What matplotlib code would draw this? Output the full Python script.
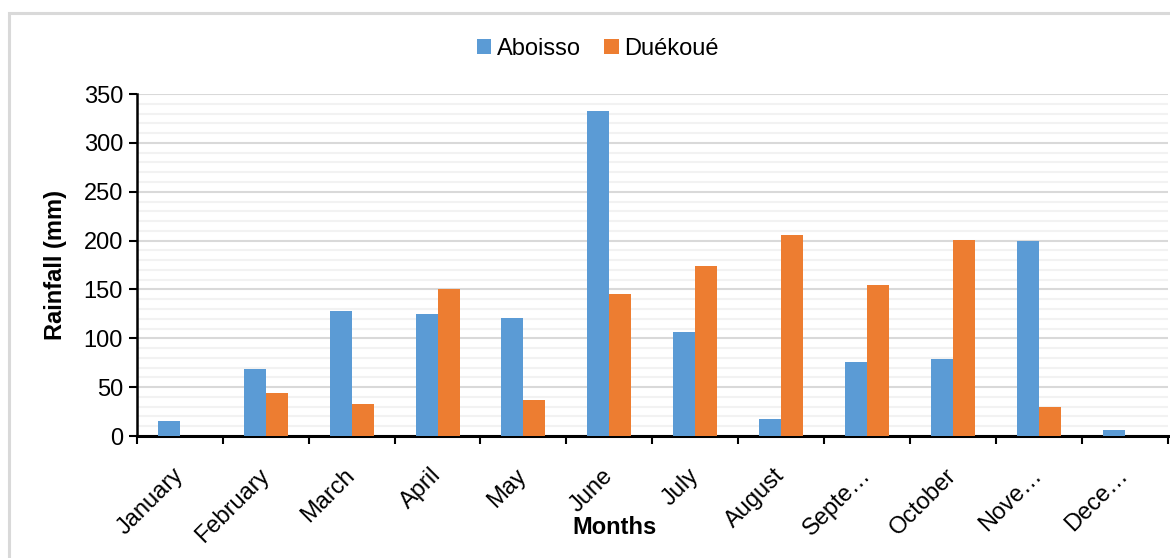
import numpy as np
import matplotlib.pyplot as plt
from matplotlib.patches import Rectangle
from matplotlib.ticker import MultipleLocator

# --- dados ---
months = ["January", "February", "March", "April", "May", "June", "July",
          "August", "September", "October", "November", "December"]
tick_labels = ["January", "February", "March", "April", "May", "June", "July",
               "August", "Septe\u2026", "October", "Nove\u2026", "Dece\u2026"]
aboisso = [15, 69, 128, 125, 121, 333, 106, 17, 76, 79, 200, 6]
duekoue = [0, 44, 33, 150, 37, 145, 174, 206, 155, 201, 30, 0]

plt.rcParams["font.family"] = ["Liberation Sans", "DejaVu Sans"]

fig = plt.figure(figsize=(11.7, 5.58), dpi=100)
ax = fig.add_axes([0.117, 0.2186, 0.881, 0.6129])

# moldura cinza do grafico (estilo Excel)
fig.patches.append(Rectangle((0.0077, -0.02), 1.0, 0.997, transform=fig.transFigure,
                             fill=False, edgecolor="#d9d9d9", linewidth=2.2))

x = np.arange(len(months))
w = 0.256
ax.bar(x - w / 2, aboisso, width=w, color="#5B9BD5", linewidth=0,
       label="Aboisso", zorder=3)
ax.bar(x + w / 2, duekoue, width=w, color="#ED7D31", linewidth=0,
       label="Duékoué", zorder=3)

ax.set_xlim(-0.5, len(months) - 0.5)
ax.set_ylim(0, 350)
ax.yaxis.set_major_locator(MultipleLocator(50))
ax.yaxis.set_minor_locator(MultipleLocator(10))
ax.grid(True, which="major", axis="y", color="#d9d9d9", linewidth=1.5, zorder=0)
ax.grid(True, which="minor", axis="y", color="#f2f2f2", linewidth=1.5, zorder=0)
ax.set_axisbelow(True)

# ticks do eixo x entre as categorias, rotulos no centro
ax.set_xticks(np.arange(-0.5, len(months), 1.0))
ax.set_xticklabels([])
ax.set_xticks(x, minor=True)
ax.set_xticklabels(tick_labels, minor=True, rotation=45, ha="right",
                   va="center", rotation_mode="anchor", fontsize=17)
ax.tick_params(axis="x", which="major", length=6, width=1.5, direction="out")
ax.tick_params(axis="x", which="minor", length=0, pad=26)
ax.tick_params(axis="y", which="major", length=6, width=1.5, labelsize=17, pad=4)
ax.tick_params(axis="y", which="minor", length=0)

for s in ["top", "right"]:
    ax.spines[s].set_visible(False)
ax.spines["left"].set_linewidth(1.8)
ax.spines["bottom"].set_linewidth(2.2)

ax.set_ylabel("Rainfall (mm)", fontsize=17, fontweight="bold", labelpad=12)
fig.text(0.525, 0.055, "Months", fontsize=17, fontweight="bold",
         ha="center", va="center")

ax.legend(loc="center", bbox_to_anchor=(0.511, 0.912), bbox_transform=fig.transFigure,
          ncol=2, frameon=False, fontsize=17, handlelength=0.6, handleheight=0.6,
          handletextpad=0.25, columnspacing=1.0)

fig.savefig("out.png", dpi=100)
